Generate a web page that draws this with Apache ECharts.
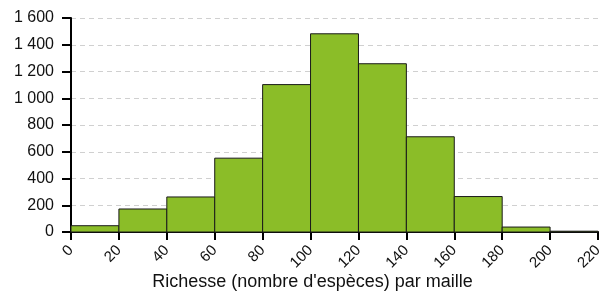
<!DOCTYPE html>
<html>
<head>
<meta charset="utf-8">
<script src="https://cdn.jsdelivr.net/npm/echarts@6/dist/echarts.min.js"></script>
<style>
  html, body { margin: 0; padding: 0; background: #fff; }
  #chart { width: 600px; height: 294px; }
</style>
</head>
<body>
<div id="chart"></div>
<script>
// classes de richesse (bornes) et effectifs
var binStart = [0, 20, 40, 60, 80, 100, 120, 140, 160, 180, 200];
var binEnd = [20, 40, 60, 80, 100, 120, 140, 160, 180, 200, 220];
var counts = [47, 172, 262, 552, 1102, 1482, 1258, 712, 265, 37, 6];

var data = binStart.map(function (s, i) {
  return [s, binEnd[i], counts[i]];
});

var chart = echarts.init(document.getElementById("chart"));

var fmt = function (v) {
  return String(v).replace(/\B(?=(\d{3})+(?!\d))/g, " ");
};

var option = {
  animation: false,
  textStyle: { fontFamily: "Liberation Sans, Arial, sans-serif" },
  grid: {
    left: 71,
    right: 2,
    top: 18,
    bottom: 62,
    containLabel: false,
    outerBoundsMode: "none"
  },
  xAxis: {
    type: "value",
    min: 0,
    max: 220,
    interval: 20,
    name: "Richesse (nombre d'espèces) par maille",
    nameLocation: "middle",
    nameGap: 41,
    nameMoveOverlap: false,
    nameTextStyle: {
      color: "#111",
      fontSize: 18,
      padding: [0, 44, 0, 0]
    },
    splitLine: { show: false },
    axisLine: { lineStyle: { color: "#000", width: 2 } },
    axisTick: { show: true, length: 8, lineStyle: { color: "#000", width: 2 } },
    axisLabel: {
      rotate: 45,
      color: "#111",
      fontSize: 15,
      margin: 16
    }
  },
  yAxis: {
    type: "value",
    min: 0,
    max: 1600,
    interval: 200,
    axisLine: { show: true, lineStyle: { color: "#000", width: 2 } },
    axisTick: { show: true, length: 9, lineStyle: { color: "#000", width: 2 } },
    axisLabel: {
      color: "#111",
      fontSize: 16,
      margin: 17,
      formatter: fmt
    },
    splitLine: {
      show: true,
      lineStyle: { color: "#d0d0d0", type: [5, 4], width: 1 }
    }
  },
  series: [
    {
      type: "custom",
      data: data,
      encode: { x: [0, 1], y: 2 },
      renderItem: function (params, api) {
        var p0 = api.coord([api.value(0), api.value(2)]);
        var p1 = api.coord([api.value(1), 0]);
        return {
          type: "rect",
          shape: {
            x: p0[0],
            y: p0[1],
            width: p1[0] - p0[0],
            height: p1[1] - p0[1]
          },
          style: {
            fill: "#8bbd28",
            stroke: "#1a1a1a",
            lineWidth: 1
          }
        };
      }
    }
  ]
};

chart.setOption(option);
</script>
</body>
</html>
